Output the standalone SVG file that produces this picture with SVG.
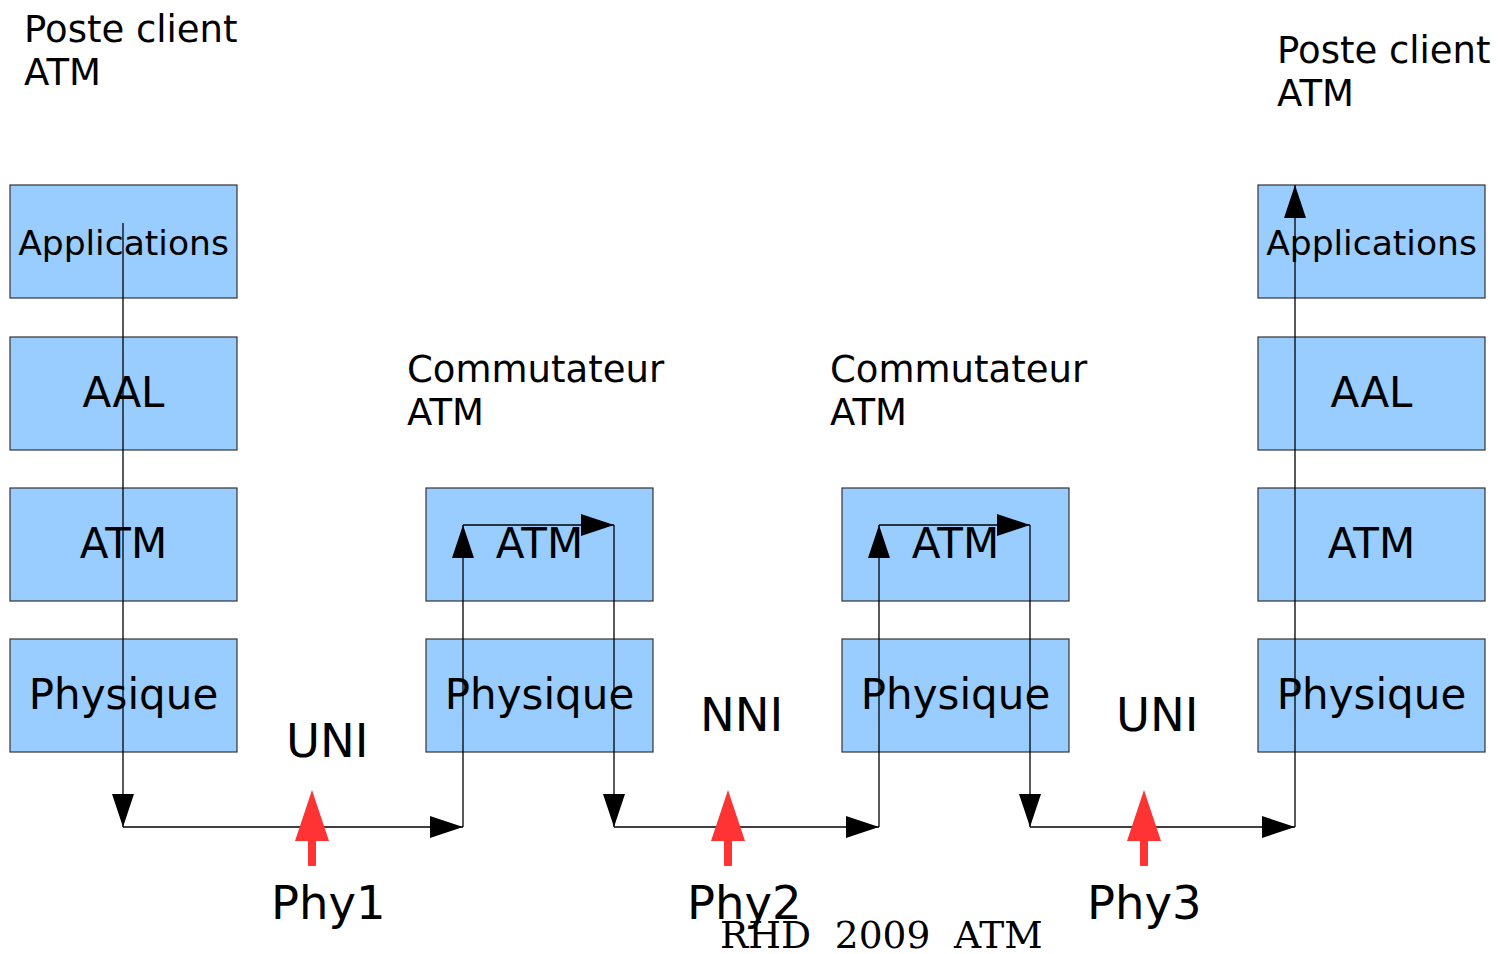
<svg xmlns="http://www.w3.org/2000/svg" width="1499" height="954" viewBox="0 0 1499 954">
<style>
.box{fill:#99ccff;stroke:#333;stroke-width:1.2}
.t{font-family:"DejaVu Sans",sans-serif;fill:#000}
.bl{font-size:42px;text-anchor:middle}
.ap{font-size:34.5px;text-anchor:middle}
.hd{font-size:37px}
.big{font-size:46.5px}
.ln{fill:none;stroke:#000;stroke-width:1.3}
.red{fill:#ff3333}
</style>
<defs>
<marker id="ah" markerUnits="userSpaceOnUse" viewBox="0 0 33 22" refX="33" refY="11" markerWidth="33" markerHeight="22" orient="auto">
<path d="M0,0 L33,11 L0,22 Z" fill="#000"/>
</marker>
</defs>
<rect width="1499" height="954" fill="#fff"/>

<g id="client1">
<text class="t hd" x="24" y="42">Poste client</text>
<text class="t hd" x="24" y="85">ATM</text>
<rect class="box" x="10" y="185" width="227" height="113"/>
<text class="t ap" x="123.5" y="255">Applications</text>
<rect class="box" x="10" y="337" width="227" height="113"/>
<text class="t bl" x="123.5" y="407">AAL</text>
<rect class="box" x="10" y="488" width="227" height="113"/>
<text class="t bl" x="123.5" y="558">ATM</text>
<rect class="box" x="10" y="639" width="227" height="113"/>
<text class="t bl" x="123.5" y="709">Physique</text>
</g>

<g id="switch1">
<text class="t hd" x="407" y="382">Commutateur</text>
<text class="t hd" x="407" y="425">ATM</text>
<rect class="box" x="426" y="488" width="227" height="113"/>
<text class="t bl" x="539.5" y="558">ATM</text>
<rect class="box" x="426" y="639" width="227" height="113"/>
<text class="t bl" x="539.5" y="709">Physique</text>
</g>

<g id="switch2">
<text class="t hd" x="830" y="382">Commutateur</text>
<text class="t hd" x="830" y="425">ATM</text>
<rect class="box" x="842" y="488" width="227" height="113"/>
<text class="t bl" x="955.5" y="558">ATM</text>
<rect class="box" x="842" y="639" width="227" height="113"/>
<text class="t bl" x="955.5" y="709">Physique</text>
</g>

<g id="client2">
<text class="t hd" x="1277" y="63">Poste client</text>
<text class="t hd" x="1277" y="106">ATM</text>
<rect class="box" x="1258" y="185" width="227" height="113"/>
<text class="t ap" x="1371.5" y="255">Applications</text>
<rect class="box" x="1258" y="337" width="227" height="113"/>
<text class="t bl" x="1371.5" y="407">AAL</text>
<rect class="box" x="1258" y="488" width="227" height="113"/>
<text class="t bl" x="1371.5" y="558">ATM</text>
<rect class="box" x="1258" y="639" width="227" height="113"/>
<text class="t bl" x="1371.5" y="709">Physique</text>
</g>

<g id="connectors">
<line class="ln" x1="123" y1="223" x2="123" y2="827" marker-end="url(#ah)"/>
<line class="ln" x1="123" y1="827" x2="463" y2="827" marker-end="url(#ah)"/>
<line class="ln" x1="463" y1="827" x2="463" y2="525" marker-end="url(#ah)"/>
<line class="ln" x1="463" y1="525" x2="614" y2="525" marker-end="url(#ah)"/>
<line class="ln" x1="614" y1="525" x2="614" y2="827" marker-end="url(#ah)"/>
<line class="ln" x1="614" y1="827" x2="879" y2="827" marker-end="url(#ah)"/>
<line class="ln" x1="879" y1="827" x2="879" y2="525" marker-end="url(#ah)"/>
<line class="ln" x1="879" y1="525" x2="1030" y2="525" marker-end="url(#ah)"/>
<line class="ln" x1="1030" y1="525" x2="1030" y2="827" marker-end="url(#ah)"/>
<line class="ln" x1="1030" y1="827" x2="1295" y2="827" marker-end="url(#ah)"/>
<line class="ln" x1="1295" y1="827" x2="1295" y2="185" marker-end="url(#ah)"/>
</g>

<g id="phy1">
<path class="red" d="M312,790 L329,841 L316,841 L316,866 L308,866 L308,841 L295,841 Z"/>
<text class="t big" x="286" y="757">UNI</text>
<text class="t big" x="271" y="919">Phy1</text>
</g>
<g id="phy2">
<path class="red" d="M728,790 L745,841 L732,841 L732,866 L724,866 L724,841 L711,841 Z"/>
<text class="t big" x="700" y="731">NNI</text>
<text class="t big" x="687" y="919">Phy2</text>
</g>
<g id="phy3">
<path class="red" d="M1144,790 L1161,841 L1148,841 L1148,866 L1140,866 L1140,841 L1127,841 Z"/>
<text class="t big" x="1116" y="731">UNI</text>
<text class="t big" x="1087" y="919">Phy3</text>
</g>

<text x="720" y="948" xml:space="preserve" style="font-family:'DejaVu Serif',serif;font-size:37.5px;white-space:pre">RHD  2009  ATM</text>
</svg>
